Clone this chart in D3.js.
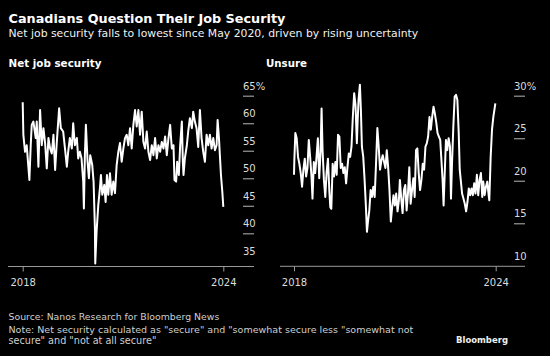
<!DOCTYPE html>
<html><head><meta charset="utf-8">
<script src="https://cdn.jsdelivr.net/npm/d3@7"></script>
<style>
html,body{margin:0;padding:0;background:#000;}
svg{display:block;background:#000;}
text{font-family:"DejaVu Sans",Verdana,sans-serif;}
</style></head>
<body>
<svg id="chart" width="550" height="356"></svg>
<script>
// ---- Data (decimal years, percent) ----
const netDates = [2018.00,2018.02,2018.07,2018.12,2018.15,2018.20,2018.24,2018.27,2018.32,2018.39,2018.42,2018.47,2018.52,2018.57,2018.62,2018.67,2018.72,2018.77,2018.82,2018.87,2018.92,2018.97,
2019.02,2019.09,2019.14,2019.21,2019.27,2019.32,2019.36,2019.41,2019.47,2019.51,2019.56,2019.62,2019.66,2019.71,2019.76,2019.81,2019.83,2019.86,2019.89,2019.94,2019.98,
2020.02,2020.08,2020.12,2020.16,2020.17,2020.21,2020.26,2020.31,2020.34,2020.38,2020.44,2020.48,2020.52,2020.56,2020.61,2020.66,2020.71,2020.76,2020.81,2020.86,2020.91,2020.96,
2021.01,2021.06,2021.11,2021.16,2021.21,2021.26,2021.31,2021.36,2021.41,2021.46,2021.51,2021.56,2021.61,2021.66,2021.71,2021.76,2021.81,2021.86,2021.91,2021.96,
2022.01,2022.06,2022.11,2022.16,2022.21,2022.26,2022.31,2022.36,2022.41,2022.46,2022.51,2022.54,2022.59,2022.62,2022.67,2022.71,2022.76,2022.79,2022.81,2022.85,2022.91,2022.95,
2023.00,2023.06,2023.10,2023.15,2023.20,2023.25,2023.30,2023.35,2023.40,2023.45,2023.50,2023.55,2023.60,2023.65,2023.70,2023.75,2023.80,2023.83,2023.87,2023.90,2023.93,2023.97,2024.00];
const netValues = [63.8,57.9,54.8,56.0,53.6,49.7,56.0,59.7,60.3,57.3,60.3,52.1,62.4,56.0,59.1,56.4,51.8,57.3,55.4,54.5,57.9,51.5,
56.6,62.7,59.1,58.5,55.1,52.1,54.8,57.3,55.4,60.0,56.0,57.3,53.6,54.8,53.6,49.4,44.5,54.2,59.7,53.0,50.0,
54.2,52.4,49.4,40.9,34.5,40.3,45.1,48.2,50.6,47.0,48.8,45.7,50.6,47.0,50.9,47.0,49.4,47.3,52.4,54.8,56.4,53.0,
55.4,57.3,57.9,56.0,59.1,55.4,59.7,62.4,59.4,62.4,57.9,62.1,56.6,55.4,58.5,54.8,53.3,56.0,54.2,57.3,
53.6,56.0,54.8,56.6,55.4,57.6,54.2,57.3,59.7,55.4,56.0,49.7,49.4,53.0,50.6,56.0,60.3,53.0,50.6,53.6,56.0,58.5,
60.9,59.1,62.1,60.3,59.1,55.7,62.4,57.3,54.8,53.0,57.9,56.0,57.9,55.4,57.3,55.1,56.0,60.6,57.3,53.9,50.6,47.6,44.8];

const unsureDates = [2018.00,2018.01,2018.04,2018.08,2018.12,2018.16,2018.20,2018.24,2018.28,2018.32,2018.36,2018.40,2018.44,2018.48,2018.52,2018.55,2018.59,2018.63,2018.67,2018.71,2018.75,2018.79,2018.82,2018.85,2018.89,2018.93,2018.97,
2019.01,2019.05,2019.08,2019.11,2019.15,2019.19,2019.23,2019.27,2019.31,2019.35,2019.39,2019.43,2019.47,2019.51,2019.55,2019.59,2019.63,2019.67,2019.71,2019.75,2019.79,2019.83,2019.87,2019.89,2019.92,2019.96,2019.99,
2020.02,2020.06,2020.10,2020.14,2020.17,2020.20,2020.24,2020.28,2020.32,2020.36,2020.40,2020.44,2020.48,2020.52,2020.56,2020.60,2020.64,2020.68,2020.72,2020.76,2020.80,2020.84,2020.88,2020.92,2020.96,
2021.00,2021.04,2021.08,2021.12,2021.15,2021.19,2021.23,2021.27,2021.31,2021.35,2021.39,2021.43,2021.47,2021.51,2021.55,2021.59,2021.63,2021.67,2021.71,2021.75,2021.79,2021.83,2021.87,2021.91,2021.95,2021.99,
2022.03,2022.07,2022.11,2022.15,2022.19,2022.23,2022.27,2022.31,2022.35,2022.38,2022.42,2022.45,2022.48,2022.52,2022.56,2022.60,2022.64,2022.67,2022.70,2022.74,2022.78,2022.82,2022.86,2022.90,2022.93,2022.96,
2023.00,2023.04,2023.08,2023.12,2023.16,2023.20,2023.24,2023.28,2023.32,2023.36,2023.40,2023.44,2023.48,2023.52,2023.56,2023.60,2023.63,2023.67,2023.71,2023.75,2023.79,2023.81,2023.85,2023.89,2023.93,2023.99];
const unsureValues = [20.7,22.4,25.6,25.0,22.8,22.0,20.9,19.3,21.3,22.6,20.5,21.5,24.8,22.8,20.5,17.9,22.2,20.9,22.8,25.0,20.3,23.4,28.5,23.6,20.1,18.1,21.0,
22.6,18.9,16.9,16.7,22.0,20.5,22.2,20.7,25.4,25.2,21.5,22.0,20.9,21.6,19.7,21.6,23.2,22.8,24.0,27.5,30.3,28.9,24.4,26.7,29.5,31.3,28.3,
24.0,22.8,20.1,16.9,14.0,15.2,16.5,18.9,18.1,19.3,18.1,22.0,26.2,24.0,21.3,22.4,23.0,22.2,21.5,23.6,21.6,18.9,15.2,16.9,18.3,
17.1,18.5,16.4,17.7,20.1,17.9,16.2,18.9,19.5,16.5,18.5,21.6,17.3,18.9,20.3,18.1,23.6,23.8,20.9,18.9,20.1,22.0,21.3,24.0,24.4,25.2,
27.5,26.0,27.5,28.7,27.9,26.9,25.6,25.2,24.8,22.8,20.1,17.1,20.5,24.8,23.6,25.0,24.0,17.9,22.0,26.4,29.9,30.1,29.5,25.6,21.3,20.1,
18.5,17.9,17.3,16.4,17.5,19.1,18.3,19.1,18.3,19.7,18.5,20.7,18.3,20.1,20.9,18.1,19.9,18.3,19.3,19.9,18.3,17.7,22.8,26.0,27.5,29.1];

const netTicks = [65,60,55,50,45,40,35];
const unsureTicks = [30,25,20,15,10];
const yearTicks = [2018,2024];

const title = "Canadians Question Their Job Security";
const subtitle = "Net job security falls to lowest since May 2020, driven by rising uncertainty";
const panelTitles = ["Net job security","Unsure"];
const sourceLine = "Source: Nanos Research for Bloomberg News";
const noteLines = ['Note: Net security calculated as "secure" and "somewhat secure less "somewhat not',
                   'secure" and "not at all secure"'];
const brand = "Bloomberg";

// ---- Drawing ----
const svg = d3.select("#chart");

function fitText(sel, target){
  const n = sel.node();
  const fs = parseFloat(sel.attr("font-size"));
  const w = n.getComputedTextLength();
  if (w > 0) sel.attr("font-size", (fs*target/w).toFixed(2));
  return sel;
}
function addText(str, x, y, opts){
  const t = svg.append("text").attr("x", x).attr("y", y)
    .attr("font-size", opts.size || 11)
    .attr("font-weight", opts.bold ? "bold" : "normal")
    .attr("fill", opts.fill || "#fff")
    .text(str);
  if (opts.width) fitText(t, opts.width);
  return t;
}

addText(title, 8.5, 23, {size:14, bold:true, width:277});
addText(subtitle, 8.5, 37, {size:10.5, fill:"#f2f2f2", width:410});
addText(panelTitles[0], 8.5, 67, {size:11, bold:true, width:93});
addText(panelTitles[1], 266, 67, {size:11, bold:true, width:41});
addText(sourceLine, 8.5, 320, {size:10, fill:"#cfcfcf", width:211});
addText(noteLines[0], 8.5, 332.5, {size:10, fill:"#cfcfcf", width:405});
addText(noteLines[1], 8.5, 343.5, {size:10, fill:"#cfcfcf", width:148});
addText(brand, 456, 343, {size:10, bold:true, fill:"#f0f0f0", width:52});

function panel(cfg){
  const x = d3.scaleLinear().domain([2018, 2024]).range([cfg.x0, cfg.x1]);
  const y = d3.scaleLinear().domain(cfg.yDomain).range([cfg.base, cfg.yTop]);
  const g = svg.append("g");

  // y ticks: short dashes at right with labels above
  const yAxis = d3.axisRight(y).tickValues(cfg.yTicks).tickSize(cfg.dashW)
    .tickFormat((d,i) => i === 0 ? d + "%" : d);
  const ya = g.append("g").attr("transform", `translate(${cfg.dashX},0)`).call(yAxis);
  ya.select(".domain").remove();
  ya.selectAll(".tick line").attr("stroke", "#9a9a9a").attr("stroke-width", 1.2)
    .filter(d => cfg.base - y(d) < 8).remove();
  ya.selectAll(".tick text").attr("x", 0).attr("dy", null).attr("y", -6.5)
    .attr("text-anchor", "start").attr("fill", "#dcdcdc")
    .attr("font-family", '"DejaVu Sans",Verdana,sans-serif').attr("font-size", 10);

  // baseline
  g.append("line").attr("x1", cfg.axisL).attr("x2", cfg.axisR)
    .attr("y1", cfg.base + 0.5).attr("y2", cfg.base + 0.5)
    .attr("stroke", "#9a9a9a").attr("stroke-width", 1);

  // x axis ticks
  const xAxis = d3.axisBottom(x).tickValues(yearTicks).tickFormat(d3.format("d"))
    .tickSizeInner(5).tickSizeOuter(0).tickPadding(6);
  const xa = g.append("g").attr("transform", `translate(0,${cfg.base + 0.5})`).call(xAxis);
  xa.select(".domain").remove();
  xa.selectAll(".tick line").attr("stroke", "#9a9a9a");
  xa.selectAll(".tick text").attr("fill", "#dcdcdc").attr("dy", null).attr("y", 19.5)
    .attr("font-family", '"DejaVu Sans",Verdana,sans-serif').attr("font-size", 10);

  // line
  const line = d3.line().x((d,i) => x(cfg.dates[i])).y(d => y(d)).curve(d3.curveLinear);
  g.append("path").datum(cfg.values).attr("d", line)
    .attr("fill", "none").attr("stroke", "#fff").attr("stroke-width", 2)
    .attr("stroke-linejoin", "round");
}

panel({x0:22.7, x1:223.3, axisL:8, axisR:254, dashX:243, dashW:11,
       base:266, yTop:95.7, yDomain:[34.06, 65], yTicks:netTicks,
       dates:netDates, values:netValues});
panel({x0:294, x1:495.7, axisL:280, axisR:525, dashX:514, dashW:11,
       base:265.8, yTop:95.7, yDomain:[10, 30], yTicks:unsureTicks,
       dates:unsureDates, values:unsureValues});
</script>
</body></html>
